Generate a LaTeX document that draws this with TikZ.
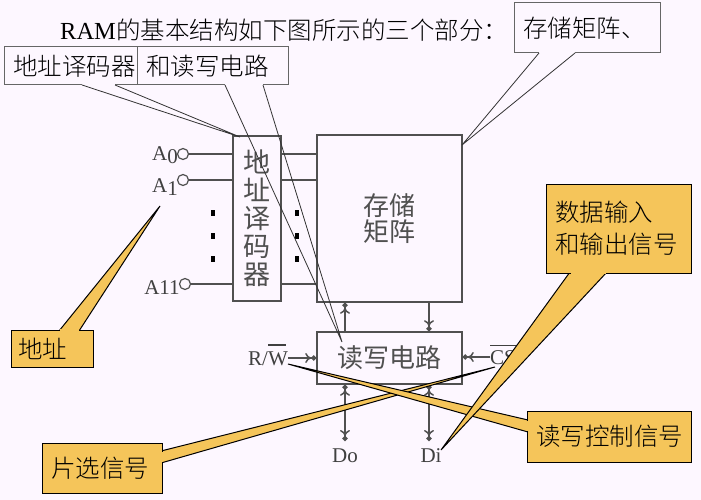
\documentclass[tikz,border=0pt]{standalone}
\usepackage{fontspec}
\usepackage{xcolor}
\setmainfont{Liberation Serif}
\newfontfamily\cjk{Noto Sans CJK SC Light}
\newfontfamily\cjkblock{Noto Sans CJK SC}
\usetikzlibrary{arrows.meta}
\definecolor{paper}{HTML}{FDF7FF}
\definecolor{tagorange}{HTML}{F5C55A}
\definecolor{ink}{HTML}{505050}
\tikzstyle{block} = [rectangle, draw=ink, line width=1.6pt, text=ink, font=\cjkblock\fontsize{26}{26}\selectfont, align=center, inner sep=0pt]
\tikzstyle{pin} = [circle, draw=ink, line width=1.2pt, fill=paper, minimum size=11pt, inner sep=0pt]
\tikzstyle{signal} = [text=black!75, font=\fontsize{21}{23}\selectfont, inner sep=0pt]
\tikzstyle{note} = [rectangle, draw=black!60, line width=1pt, fill=paper, font=\cjk\fontsize{24.5}{32}\selectfont, align=left, inner xsep=9pt, inner ysep=0pt]
\tikzstyle{tag} = [note, draw=black, fill=tagorange]
\tikzstyle{wire} = [draw=ink, line width=1.5pt]
\tikzstyle{arrow} = [wire, -{To[length=6pt,width=10pt]Circle[length=5pt]}]
\tikzstyle{both} = [wire, {Circle[length=5pt]To[length=6pt,width=10pt]}-{To[length=6pt,width=10pt]Circle[length=5pt]}]
\tikzstyle{lead} = [draw=black!80, line width=.8pt]
\tikzstyle{tail} = [draw=black, line width=1pt, fill=tagorange, line join=miter]
\tikzstyle{dotmark} = [rectangle, fill=black, minimum width=3.5pt, minimum height=6pt, inner sep=0pt]
\newcommand{\barover}[3]{\rlap{\smash{\raisebox{#2}{\rule{#1}{1.3pt}}}}#3}
\begin{document}
\begin{tikzpicture}[x=1pt, y=-1pt, node distance=100pt]
  \useasboundingbox (0,0) rectangle (701,500);
  \fill[paper] (0,0) rectangle (701,500);
  \node (title) [anchor=west, inner sep=0pt, font=\fontsize{24.5}{30}\selectfont] at (60,30) {RAM{\cjk 的基本结构如下图所示的三个部分：}};
  % blocks
  \node (decoder) [block, minimum width=48pt, minimum height=165pt, font=\cjkblock\fontsize{27}{28}\selectfont] at (257,218.5) {地\\址\\译\\码\\器};
  \node (matrix) [block, right of=decoder, xshift=32.5pt, minimum width=145pt, minimum height=167pt]{存储\\矩阵};
  \node (rw) [block, below of=matrix, yshift=-39.5pt, minimum width=145pt, minimum height=52pt]{读写电路};
  % pins
  \node (a0) [pin] at (183,154) {};
  \node (a1) [pin] at (183,180) {};
  \node (a11) [pin] at (185,284) {};
  \node (a0 label) [signal] at (165,155) {A\raisebox{-3pt}{0}};
  \node (a1 label) [signal] at (165,187) {A\raisebox{-3pt}{1}};
  \node (a11 label) [signal] at (162,288) {A11};
  \draw[wire] (a0) -- (a0 -| decoder.west);
  \draw[wire] (a1) -- (a1 -| decoder.west);
  \draw[wire] (a11) -- (a11 -| decoder.west);
  \draw[wire] (a0 -| decoder.east) -- (a0 -| matrix.west);
  \draw[wire] (a1 -| decoder.east) -- (a1 -| matrix.west);
  \draw[wire] (a11 -| decoder.east) -- (a11 -| matrix.west);
  \foreach \i/\y in {1/213, 2/236, 3/259} {
    \node (left dot \i) [dotmark] at (213,\y) {};
    \node (right dot \i) [dotmark] at (297,\y) {};
  }
  % signals
  \node (rw label) [signal] at (268,359) {R/\barover{18pt}{20pt}{W}};
  \node (cs label) [signal] at (503,358) {\barover{30pt}{19pt}{CS}};
  \node (do) [signal] at (345,456) {Do};
  \node (di) [signal] at (431,456) {Di};
  \coordinate (up) at (345,333);
  \coordinate (down) at (429,303);
  \draw[arrow] (rw label.east |- 0,358) -- (rw.west |- 0,358);
  \draw[arrow] (cs label.west |- 0,357) -- (rw.east |- 0,357);
  \draw[arrow] (up) -- (up |- matrix.south);
  \draw[arrow] (down) -- (down |- rw.north);
  \draw[both] (do |- rw.south) -- (do |- 0,441);
  \draw[both] (down |- rw.south) -- (down |- 0,441);
  % plain notes
  \coordinate (dec a) at (82,85);
  \coordinate (dec b) at (115,85);
  \coordinate (dec tip) at (240,137);
  \coordinate (cir a) at (225,85);
  \coordinate (cir b) at (263,85);
  \coordinate (cir tip) at (342,342);
  \coordinate (mat a) at (539,53);
  \coordinate (mat b) at (575,53);
  \coordinate (mat tip) at (462,145);
  \node (dec note) [note, text width=115pt, minimum height=38pt] at (70.5,66) {地址译码器};
  \node (cir note) [note, text width=133pt, minimum height=38pt] at (212.5,66) {和读写电路};
  \node (mat note) [note, text width=128pt, minimum height=50pt] at (587,28) {存储矩阵、};
  \draw[paper, line width=2pt] (dec a) -- (dec b);
  \draw[paper, line width=2pt] (cir a) -- (cir b);
  \draw[paper, line width=2pt] (mat a) -- (mat b);
  \draw[lead] (dec a) -- (dec tip) -- (dec b);
  \draw[lead] (cir a) -- (cir tip) -- (cir b);
  \draw[lead] (mat a) -- (mat tip) -- (mat b);
  % orange notes
  \coordinate (addr tip) at (160,206);
  \draw[tail] (59,331) -- (addr tip) -- (79,331);
  \node (addr note) [tag, inner xsep=7pt, text width=68pt, minimum height=37pt] at (52,348.5) {地址};
  \draw[tagorange, line width=2.5pt] (59.5,330) -- (78.5,330);
  \coordinate (cs tip) at (495,367);
  \draw[tail] (161,451) -- (cs tip) -- (161,463);
  \node (cs note) [tag, text width=102pt, minimum height=50pt] at (102,468) {片选信号};
  \draw[tagorange, line width=2.5pt] (162,452) -- (162,462);
  \coordinate (rw tip) at (288,364);
  \draw[tail] (528,420) -- (rw tip) -- (528,432);
  \node (rw note) [tag, text width=146pt, minimum height=51pt] at (609,436.5) {读写控制信号};
  \draw[tagorange, line width=2.5pt] (527,421) -- (527,431);
  \coordinate (data tip) at (441,450);
  \draw[tail] (570,272) -- (data tip) -- (607,272);
  \node (data note) [tag, text width=127pt, minimum height=89pt] at (618.5,228.5) {数据输入\\和输出信号};
  \draw[tagorange, line width=2.5pt] (571,273) -- (606,273);
\end{tikzpicture}
\end{document}
